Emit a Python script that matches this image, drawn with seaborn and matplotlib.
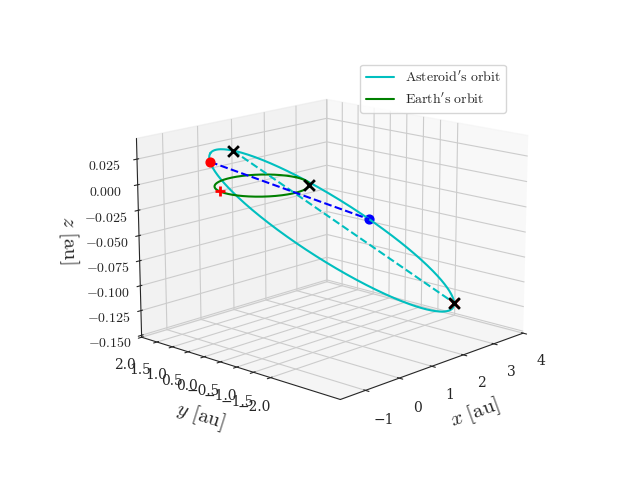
import numpy as np
import matplotlib
matplotlib.use("Agg")
import matplotlib.pyplot as plt
import seaborn as sns

sns.set_style("white")
plt.rcParams["mathtext.fontset"] = "cm"
plt.rcParams["font.family"] = "serif"
plt.rcParams["font.serif"] = ["DejaVu Serif"]

# orbit parameters
ast_a = 2.6
ast_e = 0.58
ast_peri_angle_deg = 128.0
ast_tilt = 0.028
ast_tilt_dir_deg = -55.0
earth_r = 1.0
# marker positions: eccentric anomalies on asteroid orbit, angles on Earth orbit
ast_cross_E = [-0.5, 3.2]
ast_red_E = [0.25]
ast_blue_E = [-1.8]
earth_x_ang = [-45.0]
earth_plus_ang = [165.0]

def ast(E):
    E = np.asarray(E, dtype=float)
    b = ast_a*np.sqrt(1-ast_e**2)
    u = ast_a*(np.cos(E)-ast_e)
    v = b*np.sin(E)
    ph = np.deg2rad(ast_peri_angle_deg)
    x = u*np.cos(ph) - v*np.sin(ph)
    y = u*np.sin(ph) + v*np.cos(ph)
    td = np.deg2rad(ast_tilt_dir_deg)
    z = -ast_tilt*(x*np.cos(td) + y*np.sin(td))
    return x, y, z

def earth(ang):
    a = np.deg2rad(np.asarray(ang, dtype=float))
    return earth_r*np.cos(a), earth_r*np.sin(a), 0*a

fig = plt.figure(figsize=(6.4, 4.8), dpi=100)
ax = fig.add_subplot(projection="3d")
E = np.linspace(0, 2*np.pi, 400)
ax.plot(*ast(E), color="c", label=r"$\mathrm{Asteroid's\ orbit}$")
ax.plot(*earth(np.linspace(0, 360, 400)), color="g", label=r"$\mathrm{Earth's\ orbit}$")

mx, my, mz = ast(ast_cross_E)
ax.plot(mx, my, mz, "c--")
bx, by, bz = ast(ast_blue_E)
rx, ry, rz = ast(ast_red_E)
ax.plot([rx[0], bx[0]], [ry[0], by[0]], [rz[0], bz[0]], "b--")
ax.scatter(rx, ry, rz, color="r", s=40, depthshade=False)
ax.scatter(bx, by, bz, color="b", s=40, depthshade=False)
ax.scatter(*earth(earth_plus_ang), color="r", marker="+", s=60, linewidths=2, depthshade=False)
ax.scatter(mx[1:], my[1:], mz[1:], color="r", marker="x", s=40, linewidths=2, depthshade=False)
ax.scatter(mx, my, mz, color="k", marker="x", s=60, linewidths=2, depthshade=False)
ax.scatter(*earth(earth_x_ang), color="k", marker="x", s=60, linewidths=2, depthshade=False)

ax.set_xlabel(r"$x\ \mathrm{[au]}$", fontsize=15)
ax.set_ylabel(r"$y\ \mathrm{[au]}$", fontsize=15)
ax.set_zlabel(r"$z\ \mathrm{[au]}$", fontsize=15)
ax.set_xticks([-1, 0, 1, 2, 3, 4])
ax.set_yticks([-2.0, -1.5, -1.0, -0.5, 0.0, 0.5, 1.0, 1.5, 2.0])
ax.set_zticks([-0.150, -0.125, -0.100, -0.075, -0.050, -0.025, 0.000, 0.025])
ax.set_zlim(-0.152, 0.045)
ax.zaxis.set_major_formatter(matplotlib.ticker.FuncFormatter(lambda v, p: f"${v:.3f}$"))
ax.view_init(elev=15, azim=-137)
ax.set_box_aspect(None, zoom=1.15)
ax.legend(loc="upper right")
fig.savefig("out.png", dpi=100)
